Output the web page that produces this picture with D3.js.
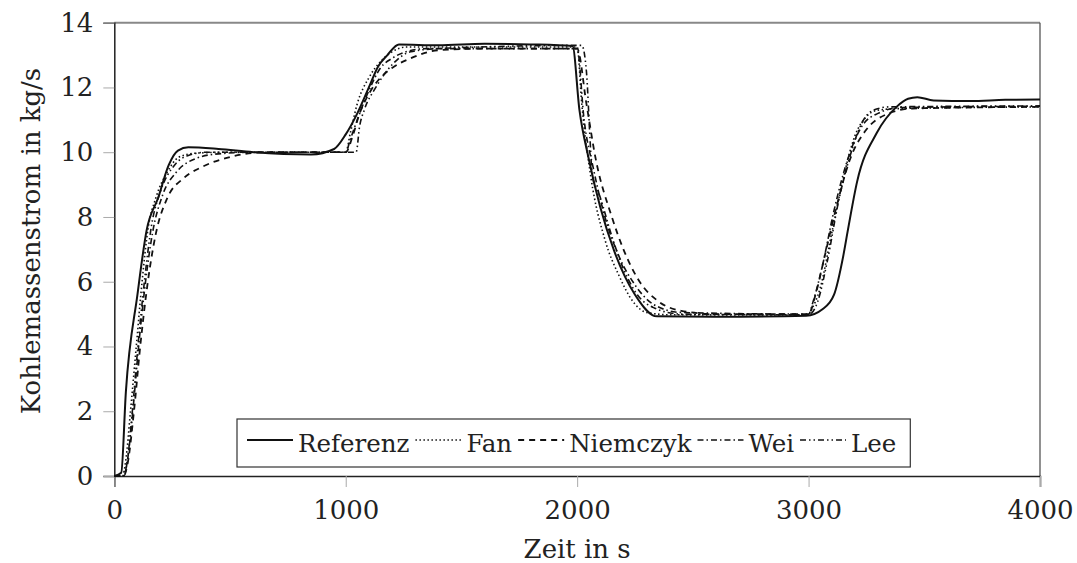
<!DOCTYPE html>
<html lang="de">
<head>
<meta charset="UTF-8" />
<title>Kohlemassenstrom</title>
<script src="https://d3js.org/d3.v7.min.js"></script>
<style>
  body { margin: 0; background: #fff; }
  text { font-family: "DejaVu Serif", serif; font-size: 24.5px; fill: #222; }
  .tick text { font-size: 26px; }
  .title { font-size: 26px; }
</style>
</head>
<body>
<svg width="1077" height="563"></svg>
<script>
// series: [time s, coal mass flow kg/s]
const referenz = [[0,0],[30,0.1],[50,2.6],[100,5.6],[140,7.6],[190,8.6],[235,9.6],[275,10.05],[320,10.15],[450,10.1],[600,10.0],[850,9.93],[950,10.1],[1000,10.55],[1050,11.2],[1100,12.0],[1140,12.65],[1180,13.0],[1230,13.33],[1400,13.3],[1600,13.35],[1800,13.33],[1980,13.28],[2010,11.3],[2050,9.8],[2100,8.3],[2160,6.95],[2250,5.6],[2345,4.93],[2600,4.92],[2990,4.95],[3060,5.15],[3110,5.6],[3150,6.8],[3170,7.6],[3210,9.1],[3295,10.6],[3380,11.4],[3430,11.65],[3470,11.7],[3540,11.6],[3700,11.58],[3850,11.62],[4000,11.63]];
const fan = [[0,0],[35,0],[50,0.5],[70,2],[95,4],[120,6],[145,7.6],[180,8.6],[230,9.4],[280,9.85],[350,9.97],[500,10.0],[1000,10.0],[1020,10.6],[1050,11.5],[1100,12.3],[1150,12.8],[1200,13.1],[1260,13.25],[2000,13.25],[2020,11.5],[2060,9.2],[2120,7.3],[2180,6.2],[2240,5.4],[2300,5.05],[2400,4.98],[3000,4.97],[3010,5.1],[3050,5.8],[3100,7.5],[3150,9.2],[3200,10.5],[3250,11.1],[3300,11.3],[3400,11.35],[4000,11.4]];
const niemczyk = [[0,0],[40,0],[58,0.4],[85,2],[112,4],[145,6],[180,7.5],[230,8.6],[300,9.2],[380,9.55],[500,9.85],[650,10.0],[1000,10.0],[1030,10.5],[1060,11.2],[1100,11.8],[1150,12.3],[1200,12.6],[1280,12.9],[1400,13.15],[1600,13.2],[2000,13.2],[2040,11.5],[2080,9.8],[2150,8.0],[2200,7.0],[2270,6.0],[2350,5.4],[2450,5.1],[2600,5.0],[3000,5.0],[3030,5.6],[3070,6.8],[3120,8.3],[3180,9.8],[3250,10.7],[3330,11.15],[3450,11.35],[4000,11.4]];
const wei = [[0,0],[40,0],[55,0.4],[80,2],[105,4],[135,6],[165,7.5],[210,8.7],[270,9.4],[350,9.8],[450,9.95],[600,10.0],[1000,10.0],[1020,10.4],[1050,11.0],[1100,11.9],[1150,12.6],[1200,12.9],[1260,13.1],[1350,13.2],[2000,13.2],[2030,11.0],[2070,9.5],[2120,8.0],[2180,6.8],[2250,5.9],[2330,5.3],[2450,5.05],[3000,5.0],[3020,5.4],[3060,6.5],[3110,8.2],[3170,9.8],[3230,10.8],[3300,11.2],[3400,11.38],[4000,11.42]];
const lee = [[0,0],[40,0],[55,0.4],[78,2],[102,4],[130,6],[160,7.7],[200,8.8],[260,9.6],[320,9.9],[400,10.0],[1045,10.0],[1060,10.8],[1080,11.3],[1130,12.0],[1200,12.7],[1280,13.1],[1400,13.2],[2020,13.3],[2040,12.5],[2055,10.5],[2065,9.3],[2100,8.6],[2150,7.4],[2200,6.4],[2260,5.6],[2330,5.2],[2450,5.0],[3000,4.98],[3040,5.4],[3080,6.6],[3130,8.5],[3180,9.9],[3230,10.9],[3280,11.3],[3350,11.4],[4000,11.43]];

const seriesNames = ["Referenz", "Fan", "Niemczyk", "Wei", "Lee"];
const seriesData = [referenz, fan, niemczyk, wei, lee];
const dashes = [null, "1.5,2.5", "6,5", "6,3,1.5,3", "6,3,1.5,3,1.5,3"];
const widths = [2, 1.6, 1.8, 1.6, 1.6];

const xTicks = [0, 1000, 2000, 3000, 4000];
const yTicks = [0, 2, 4, 6, 8, 10, 12, 14];

const svg = d3.select("svg");
const mLeft = 114.3, mRight = 1040, mTop = 22.7, mBottom = 476;

const x = d3.scaleLinear().domain([0, 4000]).range([mLeft, mRight]);
const y = d3.scaleLinear().domain([0, 14]).range([mBottom, mTop]);

// frame: gray top, dark right
svg.append("line").attr("x1", mLeft).attr("x2", mRight).attr("y1", mTop).attr("y2", mTop)
  .attr("stroke", "#888").attr("stroke-width", 2);
svg.append("line").attr("x1", mRight).attr("x2", mRight).attr("y1", mTop).attr("y2", mBottom)
  .attr("stroke", "#555").attr("stroke-width", 1.3);

// axes
const yAxis = svg.append("g").attr("transform", `translate(${mLeft},0)`)
  .call(d3.axisLeft(y).tickValues(yTicks).tickSize(11).tickPadding(10));
const xAxis = svg.append("g").attr("transform", `translate(0,${mBottom})`)
  .call(d3.axisBottom(x).tickValues(xTicks).tickFormat(d3.format("d")).tickSize(11).tickPadding(14));
[yAxis, xAxis].forEach(g => {
  g.attr("font-family", null).attr("font-size", null);
  g.select(".domain").attr("stroke", "#222").attr("stroke-width", 1.5);
  g.selectAll(".tick line").attr("stroke", "#aaa");
  g.selectAll("text").attr("fill", "#222");
});

// axis titles
svg.append("text").attr("class", "title").attr("x", (mLeft + mRight) / 2).attr("y", 558)
  .attr("text-anchor", "middle").text("Zeit in s");
svg.append("text").attr("class", "title").attr("transform", "translate(40,241) rotate(-90)")
  .attr("text-anchor", "middle").text("Kohlemassenstrom in kg/s");

// lines
const line = d3.line().x(d => x(d[0])).y(d => y(d[1])).curve(d3.curveMonotoneX);
svg.append("g").selectAll("path").data(seriesData).join("path")
  .attr("d", line)
  .attr("fill", "none")
  .attr("stroke", "#111")
  .attr("stroke-width", (d, i) => widths[i])
  .attr("stroke-dasharray", (d, i) => dashes[i]);

// legend
const lg = svg.append("g");
const box = lg.append("rect").attr("x", 237).attr("y", 419).attr("height", 48)
  .attr("fill", "#fff").attr("stroke", "#333").attr("stroke-width", 1.2);
let cx = 247;
seriesNames.forEach((name, i) => {
  lg.append("line").attr("x1", cx).attr("x2", cx + 46).attr("y1", 440).attr("y2", 440)
    .attr("stroke", "#111").attr("stroke-width", widths[i])
    .attr("stroke-dasharray", dashes[i]);
  cx += 51;
  const t = lg.append("text").attr("x", cx).attr("y", 452).text(name);
  cx += t.node().getComputedTextLength() + 6;
});
box.attr("width", cx + 8 - 237);
</script>
</body>
</html>
